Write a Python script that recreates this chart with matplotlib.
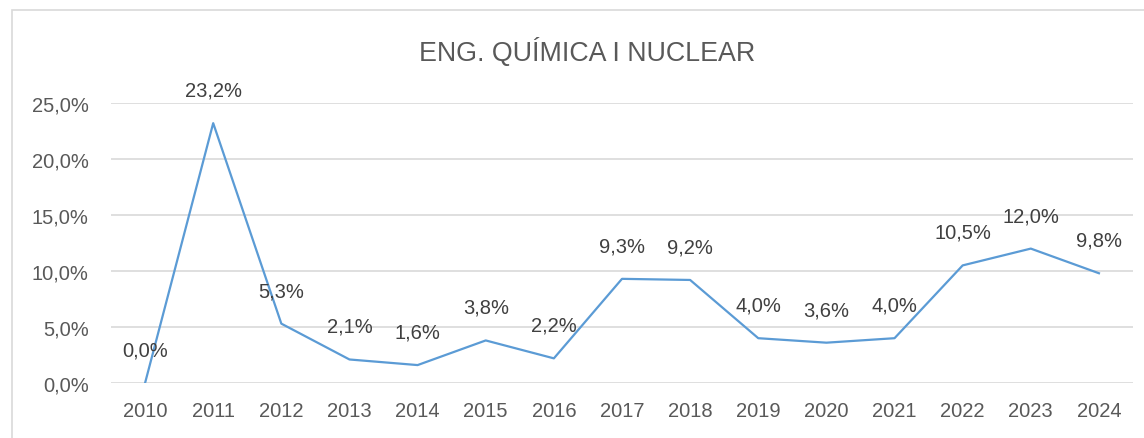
import matplotlib
matplotlib.use("Agg")
import matplotlib.pyplot as plt
from matplotlib.patches import Rectangle
from matplotlib.ticker import FuncFormatter

# Datos
anys = ["2010", "2011", "2012", "2013", "2014", "2015", "2016", "2017",
        "2018", "2019", "2020", "2021", "2022", "2023", "2024"]
valors = [0.0, 23.2, 5.3, 2.1, 1.6, 3.8, 2.2, 9.3, 9.2, 4.0, 3.6, 4.0, 10.5, 12.0, 9.8]
titol = "ENG. QUÍMICA I NUCLEAR"

plt.rcParams['font.family'] = ['Liberation Sans', 'DejaVu Sans']

fig = plt.figure(figsize=(11.44, 4.39), dpi=100)
ax = fig.add_axes([111/1144, 1 - 384/439, (1133 - 111)/1144, 280/439])

x = list(range(len(anys)))
ax.plot(x, valors, color='#5B9BD5', linewidth=1.6, zorder=3)

# Etiquetes de dades
for xi, v in zip(x, valors):
    txt = f"{v:.1f}%".replace('.', ',')
    ax.annotate(txt, (xi, v), xytext=(0, 23.8), textcoords='offset points',
                ha='center', va='center', fontsize=14.5, color='#404040',
                annotation_clip=False)

ax.set_xlim(-0.5, len(anys) - 0.5)
ax.set_ylim(0, 25)
ax.set_xticks(x)
ax.set_xticklabels(anys)
ax.set_yticks([0, 5, 10, 15, 20, 25])
ax.yaxis.set_major_formatter(FuncFormatter(lambda v, p: f"{v:.1f}%".replace('.', ',')))
ax.tick_params(axis='both', length=0, labelsize=14.5, labelcolor='#595959')
ax.tick_params(axis='y', pad=16)
ax.tick_params(axis='x', pad=13)
ax.grid(axis='y', color='#D9D9D9', linewidth=1.2)
ax.set_axisbelow(True)
for s in ax.spines.values():
    s.set_visible(False)

fig.text(587/1144, 1 - 52/439, titol, ha='center', va='center', fontsize=19.3, color='#595959')

# Marc del gràfic
fig.add_artist(Rectangle((12/1144, -0.1), 1.2, 1 - 11/439 + 0.1,
                         transform=fig.transFigure, fill=False,
                         edgecolor='#D9D9D9', linewidth=1.2))

fig.savefig("out.png", dpi=100)
